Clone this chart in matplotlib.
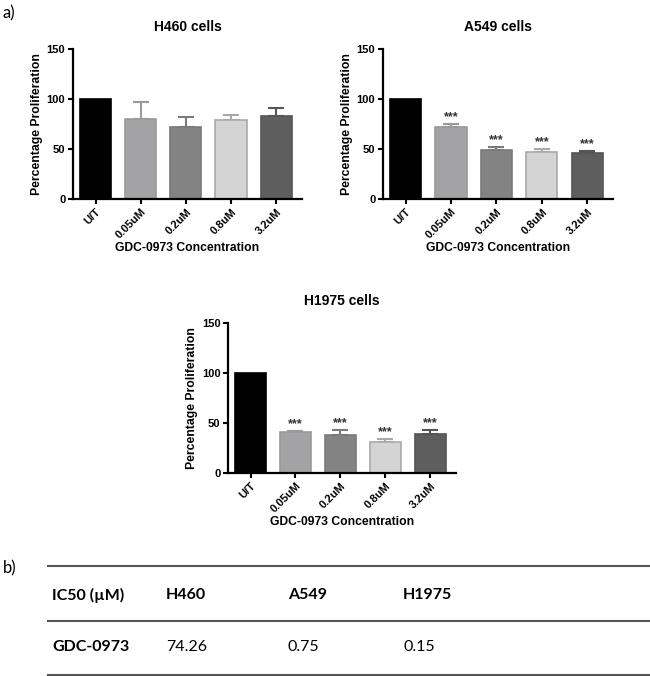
import matplotlib.pyplot as plt

plt.rcParams['font.family'] = ['Liberation Sans', 'DejaVu Sans']

concs = ['U/T', '0.05uM', '0.2uM', '0.8uM', '3.2uM']
h460_vals = [100, 80, 72, 79, 83]
h460_err = [0, 17, 10, 5, 8]
a549_vals = [100, 72, 49, 47, 46.5]
a549_err = [0, 3, 3, 3, 2]
h1975_vals = [100, 41, 38, 31, 39]
h1975_err = [0, 1, 5, 3, 4]
sig_marks = ['', '***', '***', '***', '***']

ic50_header = ['IC50 (\u00b5M)', 'H460', 'A549', 'H1975']
ic50_row = ['GDC-0973', '74.26', '0.75', '0.15']

bar_colors = ['#000000', '#a3a3a5', '#838383', '#d4d4d4', '#5e5e5e']
edge_colors = ['#000000', '#9a9a9a', '#7a7a7a', '#a9a9a9', '#555555']

fig = plt.figure(figsize=(6.5, 6.76), dpi=100)


def bar_panel(rect, title, vals, errs, stars):
    ax = fig.add_axes(rect)
    x = range(len(concs))
    ax.bar(x, vals, width=0.69, color=bar_colors, edgecolor=edge_colors, linewidth=1.2, zorder=2)
    for i in x:
        if errs[i] > 0:
            ax.errorbar(i, vals[i], yerr=[[0], [errs[i]]], fmt='none', ecolor=edge_colors[i],
                        elinewidth=1.5, capsize=6, capthick=1.5, zorder=1)
        if stars[i]:
            ax.text(i, vals[i] + errs[i] + 0.5, stars[i], ha='center', va='bottom',
                    fontsize=9, fontweight='bold', color='#333333')
    ax.set_xlim(-0.5, 4.57)
    ax.set_ylim(0, 150)
    ax.set_yticks([0, 50, 100, 150])
    ax.set_xticks(list(x))
    ax.set_xticklabels(concs, rotation=45, ha='right', rotation_mode='anchor')
    for lab in ax.get_xticklabels() + ax.get_yticklabels():
        lab.set_fontweight('bold')
        lab.set_fontsize(8)
    ax.tick_params(direction='out', length=3.5, width=1.5, pad=2)
    for s in ['top', 'right']:
        ax.spines[s].set_visible(False)
    for s in ['left', 'bottom']:
        ax.spines[s].set_linewidth(1.6)
    ax.set_title(title, fontsize=10, fontweight='bold', pad=13)
    ax.set_ylabel('Percentage Proliferation', fontsize=8.8, fontweight='bold', labelpad=3)
    ax.set_xlabel('GDC-0973 Concentration', fontsize=8.7, fontweight='bold', labelpad=1)
    return ax


bar_panel([0.1123, 0.7056, 0.3523, 0.2219], 'H460 cells', h460_vals, h460_err, [''] * 5)
bar_panel([0.5892, 0.7056, 0.354, 0.2219], 'A549 cells', a549_vals, a549_err, sig_marks)
bar_panel([0.3508, 0.3003, 0.3508, 0.2219], 'H1975 cells', h1975_vals, h1975_err, sig_marks)

fig.text(0.004, 1 - 13 / 676, 'a)', fontsize=12, va='center', family=['Lato', 'DejaVu Sans'])
fig.text(0.004, 1 - 568 / 676, 'b)', fontsize=12, va='center', family=['Lato', 'DejaVu Sans'])

# table b)
tab = fig.add_axes([0, 0, 1, 1], facecolor='none')
tab.set_xlim(0, 650)
tab.set_ylim(676, 0)
tab.axis('off')
for yl in [566, 621, 675]:
    tab.plot([48, 650], [yl, yl], color='#555555', lw=1.5)
col_x = [52, 166, 288, 403]
for cx, h in zip(col_x, ic50_header):
    tab.text(cx, 595, h, fontsize=11.5, fontweight='bold', va='center', family=['Lato', 'DejaVu Sans'])
for j, (cx, v) in enumerate(zip(col_x, ic50_row)):
    tab.text(cx, 647, v, fontsize=11.5, fontweight='bold' if j == 0 else 'normal', va='center',
             family=['Lato', 'DejaVu Sans'])

fig.savefig('out.png', dpi=100)
